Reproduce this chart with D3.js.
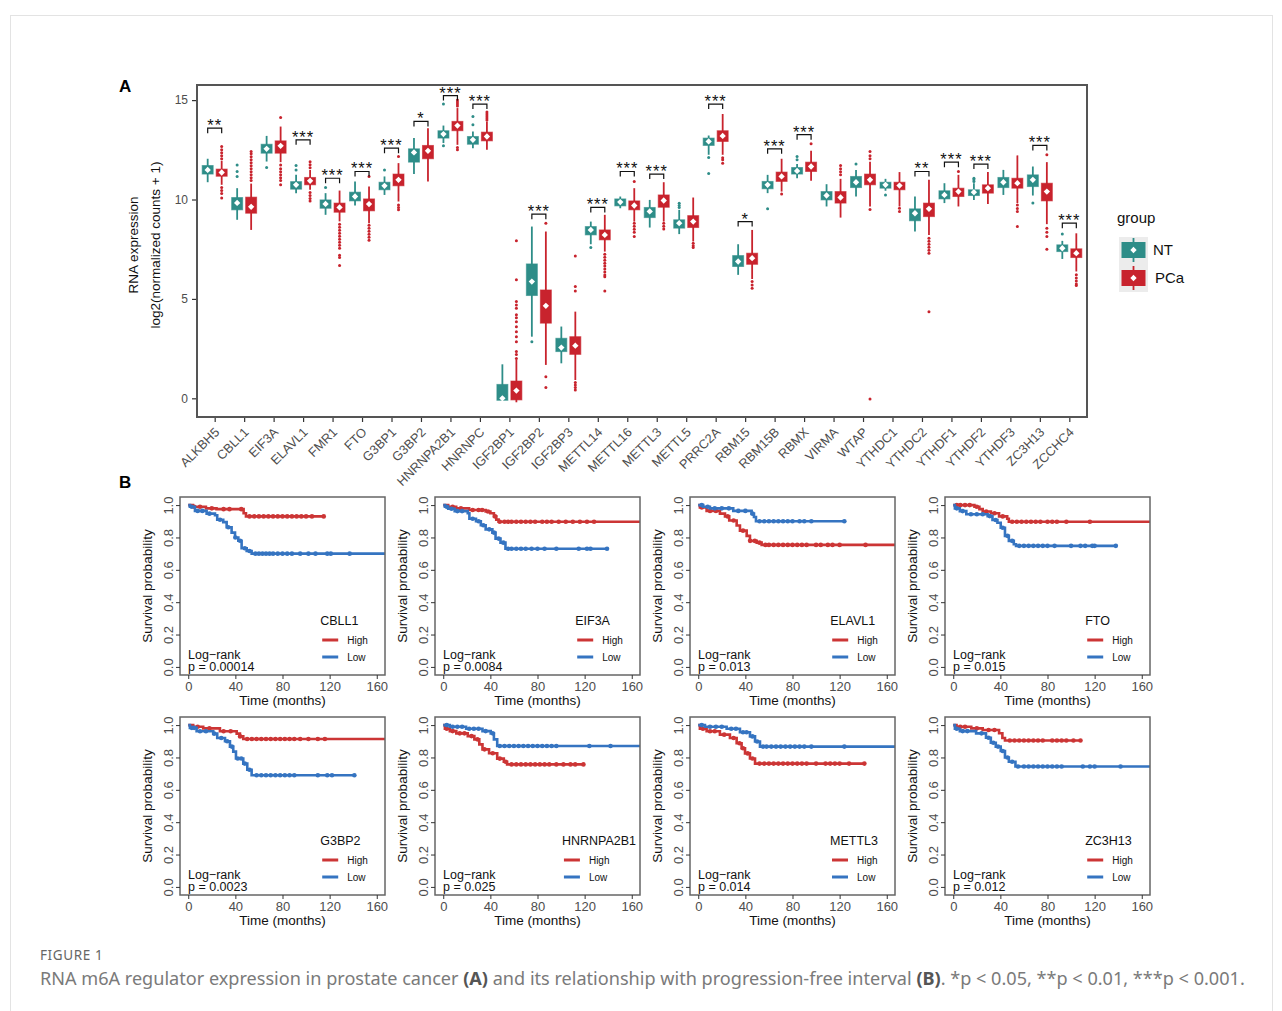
<!DOCTYPE html>
<html>
<head>
<meta charset="utf-8">
<script src="https://cdn.jsdelivr.net/npm/d3@7"></script>
<style>
  body { margin: 0; background: #fff; }
  svg text { font-family: "Liberation Sans", Arial, sans-serif; }
</style>
</head>
<body>
<svg id="fig" width="1282" height="1011"></svg>
<script>
// ---------- panel A data ----------
const genes = ["ALKBH5","CBLL1","EIF3A","ELAVL1","FMR1","FTO","G3BP1","G3BP2","HNRNPA2B1","HNRNPC",
  "IGF2BP1","IGF2BP2","IGF2BP3","METTL14","METTL16","METTL3","METTL5","PRRC2A","RBM15","RBM15B",
  "RBMX","VIRMA","WTAP","YTHDC1","YTHDC2","YTHDF1","YTHDF2","YTHDF3","ZC3H13","ZCCHC4"];

// [lower whisker, q1, centre, q3, upper whisker]
const ntStats = [
  [10.87,11.28,11.49,11.71,12.05],[8.98,9.48,9.83,10.1,10.57],[11.91,12.33,12.55,12.78,13.2],
  [10.32,10.52,10.74,10.9,11.24],[9.23,9.56,9.78,9.98,10.32],[9.7,9.93,10.15,10.37,10.91],
  [10.23,10.49,10.69,10.87,11.16],[11.28,11.88,12.37,12.55,13.09],[12.84,13.09,13.29,13.46,13.72],
  [12.58,12.78,13.0,13.17,13.42],[-0.1,-0.1,0.0,0.7,1.71],[3.1,5.17,5.87,6.76,8.64],
  [1.76,2.35,2.55,3.02,3.61],[7.75,8.22,8.47,8.64,8.89],[9.56,9.68,9.87,10.03,10.15],
  [8.59,9.09,9.4,9.6,9.98],[8.26,8.56,8.81,8.98,9.48],[12.25,12.72,12.92,13.09,13.22],
  [6.21,6.63,6.88,7.18,7.75],[10.32,10.54,10.74,10.91,11.24],[11.07,11.28,11.44,11.61,11.78],
  [9.65,9.98,10.2,10.4,10.77],[10.15,10.6,10.87,11.16,11.49],[10.44,10.57,10.74,10.87,11.04],
  [8.39,8.93,9.31,9.53,10.15],[9.82,10.03,10.23,10.44,10.82],[9.98,10.2,10.37,10.49,10.82],
  [10.23,10.6,10.87,11.11,11.49],[10.2,10.65,10.99,11.24,11.66],[7.01,7.38,7.55,7.72,7.92]
];
const pcaStats = [
  [10.74,11.17,11.36,11.53,11.95],[8.47,9.31,9.63,10.12,10.8],[11.88,12.33,12.7,12.95,13.67],
  [10.49,10.74,10.94,11.11,11.49],[8.9,9.36,9.6,9.82,10.45],[8.81,9.43,9.77,10.03,10.65],
  [9.9,10.69,10.99,11.28,11.83],[10.9,12.05,12.45,12.72,13.59],[12.75,13.46,13.72,13.93,14.6],
  [12.5,12.95,13.17,13.39,13.93],[-0.2,-0.08,0.39,0.87,1.93],[1.68,3.78,4.65,5.45,8.39],
  [0.92,2.21,2.65,3.1,4.36],[7.38,7.97,8.22,8.47,9.23],[8.89,9.48,9.7,9.93,10.57],
  [8.89,9.61,9.95,10.23,10.87],[7.89,8.59,8.89,9.19,10.1],[12.25,12.92,13.2,13.46,14.3],
  [6.0,6.74,7.05,7.3,8.47],[10.4,10.91,11.16,11.38,12.05],[10.94,11.41,11.66,11.88,12.45],
  [9.09,9.82,10.1,10.4,11.04],[9.65,10.74,10.99,11.28,11.9],[9.65,10.49,10.7,10.87,11.38],
  [8.22,9.14,9.53,9.82,10.99],[9.65,10.15,10.4,10.57,11.24],[9.77,10.32,10.57,10.74,11.38],
  [9.82,10.57,10.82,11.07,12.22],[8.76,9.93,10.4,10.82,11.88],[6.38,7.08,7.3,7.52,8.3]
];
const ntOutliers = [
  [],[11.16,11.41,11.74],[11.61],[11.49,11.71],[10.6],[],[11.49],[],[14.8,12.7],[13.76,14.18],
  [],[2.85],[],[7.58],[],[],[9.6,9.7,9.81],[12.11,11.31],[],[9.53],
  [12.0,12.16],[],[11.78],[10.23],[],[],[10.9,11.0,11.07],[],[9.82],[8.26]
];
const pcaOutliers = [
  [12.05,12.2,12.35,12.5,12.67,10.6,10.45,10.3,10.07],
  [10.95,11.1,11.25,11.4,11.55,11.7,11.85,12.0,12.15,12.3,12.42],
  [14.13,11.74,11.55,11.4,11.25,11.1,10.95,10.74],
  [11.6,11.75,11.9,10.35,10.2,10.05,9.93],
  [8.75,8.6,8.45,8.3,8.15,8.0,7.85,7.7,7.55,7.2,7.08,6.68],
  [11.16,8.7,8.55,8.4,8.25,8.1,7.95],
  [12.16,9.73,9.6,9.48],
  [],
  [14.7,14.8,14.9,15.0,12.62,12.5],
  [14.0,14.1,14.2,14.3,14.4],
  [2.0,2.2,2.35,2.85,3.1,3.35,3.6,3.85,4.05,4.2,4.53,4.7,4.87,5.96,7.92],
  [8.81,1.09,0.54],
  [7.16,5.62,5.4,0.8,0.67,0.55,0.42],
  [7.25,7.1,6.95,6.8,6.65,6.5,6.35,6.2,6.12,5.4],
  [10.9,8.8,8.65,8.5,8.35,8.14],
  [8.8,8.65,8.52],
  [7.8,7.68,7.58],
  [12.1,12.0,11.83],
  [5.87,5.7,5.54],
  [10.28],
  [12.8],
  [11.24,11.4,11.55,11.71],
  [12.05,12.2,12.42,9.5,-0.03],
  [9.56,9.4],
  [8.05,7.9,7.75,7.6,7.45,7.3,4.36],
  [11.41],
  [],
  [9.73,9.55,9.4,8.64],
  [12.25,8.56,8.35,8.14,7.5],
  [6.21,6.05,5.9,5.75,5.67]
];
const sigLabels = ["**","","","***","***","***","***","*","***","***",
  "","***","","***","***","***","","***","*","***",
  "***","","","","**","***","***","","***","***"];
const sigLevels = [13.59,0,0,13.0,11.07,11.41,12.58,13.93,15.23,14.8,
  0,9.26,0,9.6,11.41,11.28,0,14.8,8.89,12.55,
  13.26,0,0,0,11.41,11.88,11.78,0,12.72,8.81];
const groups = ["NT","PCa"];
const groupColors = ["#2e8d88","#c8232d"];
const yTicksA = [0,5,10,15];

// ---------- panel B data ----------
const kmGenes = ["CBLL1","EIF3A","ELAVL1","FTO","G3BP2","HNRNPA2B1","METTL3","ZC3H13"];
const kmPvals = ["0.00014","0.0084","0.013","0.015","0.0023","0.025","0.014","0.012"];
const highSteps = [
  [[0,1],[4,0.99],[15,0.98],[24,0.975],[47,0.95],[49,0.93]],
  [[0,1],[4.2,0.99],[11,0.98],[22,0.97],[36,0.96],[40,0.95],[43,0.93],[45,0.91],[47,0.897]],
  [[0,1],[1.4,0.985],[7.1,0.964],[18.4,0.947],[22.7,0.93],[26.3,0.905],[32.6,0.874],[35.4,0.842],[41.1,0.81],[43.9,0.779],[49.6,0.768],[53.8,0.754]],
  [[0,1],[18,0.99],[22.2,0.975],[25,0.96],[32,0.95],[38.9,0.93],[45.8,0.916],[47.2,0.897]],
  [[0,1],[4.2,0.99],[12.7,0.98],[26.9,0.962],[41.1,0.947],[43.9,0.93],[46.7,0.914]],
  [[0,1],[1.4,0.977],[5.6,0.963],[11.1,0.949],[20.8,0.932],[26.4,0.912],[30.6,0.881],[33.3,0.85],[38.9,0.826],[45.8,0.793],[51.4,0.773],[54.2,0.757]],
  [[0,1],[1.4,0.977],[7.1,0.962],[18.4,0.941],[26.9,0.92],[32.6,0.888],[36.8,0.857],[39.7,0.825],[43.9,0.794],[48.2,0.762]],
  [[0,1],[2.8,0.99],[15.3,0.98],[25,0.97],[38.9,0.95],[41.7,0.92],[43.9,0.905]]
];
const highEnd = [115,167,167,167,167,119,141.6,108];
const highCensor = [
  [5,10,20,30,35,45,52,56,60,64,68,72,76,80,84,88,92,96,100,105,115],
  [8,15,25,30,33,38,44,48,52,55,58,62,66,70,74,78,84,88,92,98,104,110,116,122,128],
  [3,10,15,25,30,38,44,48,52,57,60,64,68,72,76,80,84,88,92,100,104,110,114,120,142],
  [3,6,10,14,20,28,35,42,50,54,58,62,66,70,74,80,84,88,96,116],
  [8,18,30,36,44,50,54,58,62,66,70,74,78,82,86,90,95,102,110,116],
  [3,8,14,18,24,29,35,42,48,53,58,62,66,70,74,78,82,86,90,96,102,108,112,119],
  [4,10,14,22,30,35,38,42,46,52,56,60,64,68,72,76,80,84,88,92,100,108,112,116,120,128,141],
  [6,10,20,30,35,48,52,56,60,64,68,72,76,84,88,92,96,102,108]
];
const lowSteps = [
  [[0,1],[1.4,0.99],[5.7,0.964],[15.6,0.947],[22.7,0.937],[24.6,0.909],[29.7,0.895],[32.6,0.863],[36.8,0.83],[39.7,0.8],[42.5,0.78],[45.3,0.733],[49.6,0.716],[53.8,0.70]],
  [[0,1],[1.4,0.99],[4.2,0.977],[9.7,0.963],[20.8,0.95],[22.2,0.916],[27.8,0.9],[31.9,0.875],[36,0.85],[41.7,0.83],[44.4,0.793],[48.6,0.768],[52.8,0.73]],
  [[0,1],[4.2,0.99],[9.9,0.98],[29.7,0.964],[45.3,0.947],[47.3,0.926],[49,0.9]],
  [[0,1],[1.4,0.98],[5.6,0.963],[11.1,0.943],[29.2,0.932],[33.3,0.908],[37.5,0.891],[40.3,0.86],[43.9,0.81],[47.2,0.779],[51.4,0.758],[53.3,0.748]],
  [[0,1],[1.4,0.983],[7.1,0.962],[21.2,0.947],[24.6,0.92],[31.2,0.9],[35.4,0.867],[38.2,0.836],[40.5,0.794],[46.7,0.762],[50.1,0.724],[53.8,0.69]],
  [[0,1],[5.6,0.99],[19.4,0.977],[33.3,0.963],[40.3,0.949],[43,0.912],[45.8,0.871]],
  [[0,1],[5.7,0.99],[24.1,0.977],[35.4,0.956],[43.9,0.93],[48.2,0.899],[52.4,0.867]],
  [[0,1],[1.4,0.977],[5.6,0.963],[19.4,0.949],[27.8,0.922],[31.9,0.891],[36.1,0.867],[40.3,0.84],[43.9,0.8],[47.2,0.773],[52.8,0.744]]
];
const lowEnd = [167,139,124,138,141.6,167,167,167];
const lowCensor = [
  [3,8,12,18,27,34,40,44,48,52,57,60,63,66,69,72,76,80,84,88,95,102,108,118,121,137],
  [3,7,12,16,25,30,34,39,43,47,51,55,58,62,66,70,75,80,86,96,115,122,125,139],
  [3,8,14,20,26,34,40,46,52,56,60,64,68,72,76,80,86,90,96,124],
  [3,8,15,20,25,31,36,42,46,50,56,60,64,68,72,76,80,86,100,108,112,118,120,138],
  [3,5,10,15,22,28,33,37,42,45,48,52,58,62,66,70,74,78,82,86,90,110,118,122,141],
  [3,8,12,16,22,26,30,36,42,48,52,56,60,64,68,72,76,80,84,88,92,96,124,142],
  [3,10,15,20,28,32,38,41,46,50,55,58,62,66,70,74,78,82,86,90,96,124],
  [3,8,12,24,30,34,38,42,46,50,55,60,64,68,72,76,80,84,88,92,110,116,120,142]
];
const kmLevels = ["High","Low"];
const kmColors = ["#cc3535","#3574c1"];
const kmXTicks = [0,40,80,120,160];
const kmYTicks = [0,0.2,0.4,0.6,0.8,1.0];

const svg = d3.select("#fig");

// outer frame
svg.append("rect").attr("x",10.5).attr("y",15.5).attr("width",1262).attr("height",1010)
  .attr("fill","none").attr("stroke","#e3e3e3");

// ================= Panel A =================
const pA = {left:197, right:1087, top:85, bottom:417};
const x = d3.scalePoint().domain(genes).range([pA.left, pA.right]).padding(0.6);
const y = d3.scaleLinear().domain([-0.94, 15.76]).range([pA.bottom, pA.top]);
const dodge = 7, boxW = 11;

const gA = svg.append("g");

// y axis
const yAx = gA.append("g").attr("transform",`translate(${pA.left},0)`)
  .call(d3.axisLeft(y).tickValues(yTicksA).tickSize(5).tickPadding(4));
yAx.select(".domain").remove();
yAx.selectAll("line").attr("stroke","#333").attr("stroke-width",1.2);
yAx.selectAll("text").attr("font-size",12).attr("fill","#4d4d4d")
  .style("font-family","Liberation Sans, Arial, sans-serif");

// x axis
const xAx = gA.append("g").attr("transform",`translate(0,${pA.bottom})`)
  .call(d3.axisBottom(x).tickSize(5));
xAx.select(".domain").remove();
xAx.selectAll("line").attr("stroke","#333").attr("stroke-width",1.2);
xAx.selectAll("text").attr("font-size",12.8).attr("fill","#4d4d4d")
  .style("font-family","Liberation Sans, Arial, sans-serif")
  .attr("text-anchor","end").attr("y",0).attr("dy",0)
  .attr("transform","translate(5,16) rotate(-45)");

// boxes
genes.forEach((g, i) => {
  [ntStats[i], pcaStats[i]].forEach((s, k) => {
    const cx = x(g) + (k === 0 ? -dodge : dodge);
    const col = groupColors[k];
    const outs = (k === 0 ? ntOutliers : pcaOutliers)[i];
    gA.selectAll(null).data(outs).join("circle")
      .attr("cx", cx).attr("cy", d => y(d)).attr("r", 1.5).attr("fill", col);
    gA.append("line").attr("x1",cx).attr("x2",cx).attr("y1",y(s[0])).attr("y2",y(s[4]))
      .attr("stroke",col).attr("stroke-width",1.8);
    gA.append("rect").attr("x",cx-boxW/2).attr("width",boxW)
      .attr("y",y(s[3])).attr("height",Math.max(2,y(s[1])-y(s[3])))
      .attr("fill",col).attr("stroke",col).attr("stroke-opacity",0.6).attr("stroke-width",1);
    gA.append("path").attr("d", d3.symbol(d3.symbolSquare, 20)())
      .attr("transform",`translate(${cx},${y(s[2])}) rotate(45)`).attr("fill","#fff");
  });
  if (sigLabels[i]) {
    const yb = y(sigLevels[i]);
    const x1 = x(g) - dodge, x2 = x(g) + dodge;
    gA.append("path").attr("d",`M${x1},${yb+5}V${yb}H${x2}V${yb+5}`)
      .attr("fill","none").attr("stroke","#111").attr("stroke-width",1.2);
    gA.append("text").attr("x",x(g)).attr("y",yb+3).attr("text-anchor","middle")
      .attr("font-size",16.5).attr("fill","#111").attr("letter-spacing",1).text(sigLabels[i]);
  }
});

// panel frame
gA.append("rect").attr("x",pA.left).attr("y",pA.top)
  .attr("width",pA.right-pA.left).attr("height",pA.bottom-pA.top)
  .attr("fill","none").attr("stroke","#555").attr("stroke-width",2);

// axis titles
const yMid = (pA.top + pA.bottom)/2 - 6;
gA.append("text").attr("transform",`translate(138,${yMid}) rotate(-90)`).attr("text-anchor","middle")
  .attr("font-size",13.5).attr("fill","#111").text("RNA expression");
gA.append("text").attr("transform",`translate(160,${yMid}) rotate(-90)`).attr("text-anchor","middle")
  .attr("font-size",13.5).attr("fill","#111").text("log2(normalized counts + 1)");

// legend
gA.append("text").attr("x",1117).attr("y",223).attr("font-size",15).attr("fill","#111").text("group");
gA.append("rect").attr("x",1119).attr("y",237).attr("width",29).attr("height",55).attr("fill","#ececec");
groups.forEach((gr, k) => {
  const ky = 250 + k*28, kx = 1133.5;
  gA.append("line").attr("x1",kx).attr("x2",kx).attr("y1",ky-12).attr("y2",ky+12)
    .attr("stroke",groupColors[k]).attr("stroke-width",1.8);
  gA.append("rect").attr("x",kx-12).attr("y",ky-8).attr("width",24).attr("height",16)
    .attr("fill",groupColors[k]);
  gA.append("path").attr("d", d3.symbol(d3.symbolSquare, 20)())
    .attr("transform",`translate(${kx},${ky}) rotate(45)`).attr("fill","#fff");
  gA.append("text").attr("x",1153 + k*2).attr("y",ky+5).attr("font-size",15).attr("fill","#111").text(gr);
});

// panel letters
svg.append("text").attr("x",119).attr("y",92).attr("font-size",17).attr("font-weight","bold").text("A");
svg.append("text").attr("x",119).attr("y",488).attr("font-size",17).attr("font-weight","bold").text("B");

// ================= Panel B =================
const kmLefts = [180, 435, 690, 945];
const kmTops = [497, 717];
const kmW = 205, kmH = 178;

function stepAt(steps, t) {
  const idx = d3.bisector(d => d[0]).right(steps, t) - 1;
  return steps[Math.max(0, idx)][1];
}

kmGenes.forEach((gene, i) => {
  const left = kmLefts[i % 4], top = kmTops[Math.floor(i / 4)];
  const kx = d3.scaleLinear().domain([-7, 167]).range([left, left + kmW]);
  const ky = d3.scaleLinear().domain([-0.05, 1.05]).range([top + kmH, top]);
  const g = svg.append("g");

  const clipId = "clip" + i;
  g.append("clipPath").attr("id", clipId).append("rect")
    .attr("x", left).attr("y", top).attr("width", kmW).attr("height", kmH);
  const plot = g.append("g").attr("clip-path", `url(#${clipId})`);

  const line = d3.line().x(d => kx(d[0])).y(d => ky(d[1])).curve(d3.curveStepAfter);
  [[highSteps[i], highEnd[i], highCensor[i]], [lowSteps[i], lowEnd[i], lowCensor[i]]]
    .forEach(([steps, end, cens], k) => {
      const pts = steps.concat([[end, steps[steps.length - 1][1]]]);
      plot.append("path").attr("d", line(pts)).attr("fill", "none")
        .attr("stroke", kmColors[k]).attr("stroke-width", 2.6);
      plot.selectAll(null).data(cens.filter(t => t <= end)).join("circle")
        .attr("cx", t => kx(t)).attr("cy", t => ky(stepAt(steps, t)))
        .attr("r", 2.3).attr("fill", kmColors[k]);
    });

  // frame
  g.append("rect").attr("x", left).attr("y", top).attr("width", kmW).attr("height", kmH)
    .attr("fill", "none").attr("stroke", "#666").attr("stroke-width", 1.5);

  // axes
  const xa = g.append("g").attr("transform", `translate(0,${top + kmH})`)
    .call(d3.axisBottom(kx).tickValues(kmXTicks).tickSize(4).tickPadding(3));
  xa.select(".domain").remove();
  xa.selectAll("line").attr("stroke", "#333");
  xa.selectAll("text").attr("font-size", 13).attr("fill", "#4d4d4d")
    .style("font-family", "Liberation Sans, Arial, sans-serif");

  const ya = g.append("g").attr("transform", `translate(${left},0)`)
    .call(d3.axisLeft(ky).tickValues(kmYTicks).tickFormat(d3.format(".1f")).tickSize(4));
  ya.select(".domain").remove();
  ya.selectAll("line").attr("stroke", "#333");
  ya.selectAll("text").attr("font-size", 13).attr("fill", "#4d4d4d")
    .style("font-family", "Liberation Sans, Arial, sans-serif")
    .attr("x", 0).attr("dy", 0).attr("text-anchor", "middle")
    .attr("transform", "translate(-7,0) rotate(-90)");

  g.append("text").attr("transform", `translate(${left - 28},${top + kmH / 2}) rotate(-90)`)
    .attr("text-anchor", "middle").attr("font-size", 13.5).attr("fill", "#111")
    .text("Survival probability");
  g.append("text").attr("x", left + kmW / 2).attr("y", top + 207.5)
    .attr("text-anchor", "middle").attr("font-size", 13.5).attr("fill", "#111")
    .text("Time (months)");

  // log-rank
  g.append("text").attr("x", left + 8).attr("y", top + 162).attr("font-size", 12.5)
    .attr("fill", "#111").text("Log\u2212rank");
  g.append("text").attr("x", left + 8).attr("y", top + 174).attr("font-size", 12.5)
    .attr("fill", "#111").text("p = " + kmPvals[i]);

  // legend
  const lg = g.append("g");
  lg.append("text").attr("x", 0).attr("y", 0).attr("font-size", 12.5).attr("fill", "#111").text(gene);
  kmLevels.forEach((lv, k) => {
    const ly = 15 + k * 17;
    lg.append("line").attr("x1", 2).attr("x2", 18).attr("y1", ly).attr("y2", ly)
      .attr("stroke", kmColors[k]).attr("stroke-width", 3);
    lg.append("text").attr("x", 27).attr("y", ly + 3.5).attr("font-size", 10).attr("fill", "#111").text(lv);
  });
  const bb = lg.node().getBBox();
  lg.attr("transform", `translate(${left + 0.8 * kmW - bb.width / 2},${top + 128})`);
});

// ================= caption =================
svg.append("text").attr("x", 40).attr("y", 960).attr("font-size", 13.5).attr("fill", "#666")
  .attr("letter-spacing", 0.6).style("font-family", "Noto Sans, Open Sans, sans-serif").text("FIGURE 1");
const cap = svg.append("text").attr("x", 40).attr("y", 985).attr("font-size", 18.1).attr("fill", "#7a7a7a")
  .style("font-family", "Noto Sans, Open Sans, sans-serif");
cap.append("tspan").text("RNA m6A regulator expression in prostate cancer ");
cap.append("tspan").attr("font-weight", "bold").attr("fill", "#555").text("(A)");
cap.append("tspan").text(" and its relationship with progression-free interval ");
cap.append("tspan").attr("font-weight", "bold").attr("fill", "#555").text("(B)");
cap.append("tspan").text(". *p < 0.05, **p < 0.01, ***p < 0.001.");
</script>
</body>
</html>
